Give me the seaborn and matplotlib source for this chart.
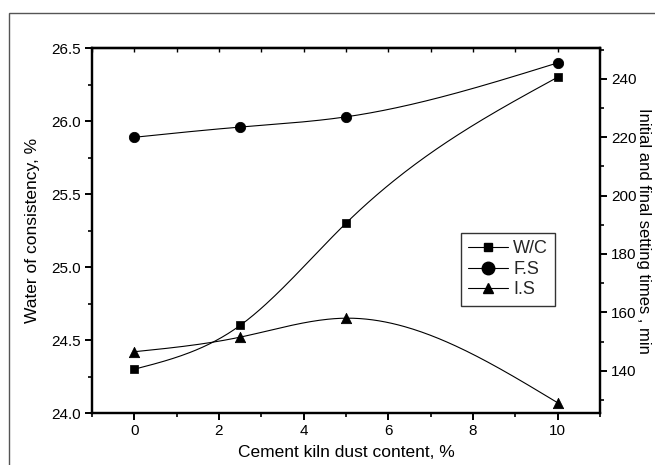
import numpy as np
import matplotlib
matplotlib.use("Agg")
import matplotlib.pyplot as plt
import seaborn as sns
from matplotlib.lines import Line2D
from matplotlib.patches import Rectangle

# CKD content (%) and measured values
ckd = [0, 2.5, 5, 10]
wc = [24.3, 24.6, 25.3, 26.3]          # water of consistency, %
final_set = [220, 223.5, 227, 245.5]   # F.S, min
initial_set = [146.5, 151.5, 158, 129]  # I.S, min


def smooth(x, y, n=200):
    # natural cubic spline through the points, for drawing only
    x = np.asarray(x, float)
    y = np.asarray(y, float)
    h = np.diff(x)
    m = len(x)
    A = np.zeros((m, m))
    b = np.zeros(m)
    A[0, 0] = A[-1, -1] = 1
    for i in range(1, m - 1):
        A[i, i - 1] = h[i - 1]
        A[i, i] = 2 * (h[i - 1] + h[i])
        A[i, i + 1] = h[i]
        b[i] = 6 * ((y[i + 1] - y[i]) / h[i] - (y[i] - y[i - 1]) / h[i - 1])
    M = np.linalg.solve(A, b)
    xs = np.linspace(x[0], x[-1], n)
    idx = np.clip(np.searchsorted(x, xs) - 1, 0, m - 2)
    x0, x1 = x[idx], x[idx + 1]
    hh = x1 - x0
    ys = (M[idx] * (x1 - xs) ** 3 / (6 * hh) + M[idx + 1] * (xs - x0) ** 3 / (6 * hh)
          + (y[idx] / hh - M[idx] * hh / 6) * (x1 - xs)
          + (y[idx + 1] / hh - M[idx + 1] * hh / 6) * (xs - x0))
    return xs, ys


sns.set_theme(style="ticks")
plt.rcParams["font.family"] = ["Liberation Sans", "DejaVu Sans"]

fig = plt.figure(figsize=(6.55, 4.65), dpi=100)
fig.subplots_adjust(left=92 / 655, right=600 / 655, top=1 - 48 / 465, bottom=1 - 413 / 465)
ax = fig.add_subplot(111)
ax2 = ax.twinx()

# frame around the figure (only left and top edges visible)
fig.patches.append(Rectangle((9 / 655, -0.2), 1.2, 0.2 + 1 - 12.7 / 465, transform=fig.transFigure,
                             fill=False, edgecolor="#555555", linewidth=1.0, clip_on=False))

lw = 0.8
xs, ys = smooth(ckd, wc)
sns.lineplot(x=xs, y=ys, ax=ax, color="black", linewidth=lw, sort=False)
sns.scatterplot(x=ckd, y=wc, ax=ax, marker="s", s=40, color="black", edgecolor="black", zorder=5)

xs, ys = smooth(ckd, final_set)
sns.lineplot(x=xs, y=ys, ax=ax2, color="black", linewidth=lw, sort=False)
sns.scatterplot(x=ckd, y=final_set, ax=ax2, marker="o", s=55, color="black", edgecolor="black", zorder=5)

xs, ys = smooth(ckd, initial_set)
sns.lineplot(x=xs, y=ys, ax=ax2, color="black", linewidth=lw, sort=False)
sns.scatterplot(x=ckd, y=initial_set, ax=ax2, marker="^", s=55, color="black", edgecolor="black", zorder=5)

ax.set_xlim(-1, 11)
ax.set_ylim(24.0, 26.5)
ax2.set_ylim(125.5, 250.6)

ax.set_xticks([0, 2, 4, 6, 8, 10])
ax.set_xticks(np.arange(-1, 12, 1), minor=True)
ax.set_yticks([24.0, 24.5, 25.0, 25.5, 26.0, 26.5])
ax.set_yticklabels(["24.0", "24.5", "25.0", "25.5", "26.0", "26.5"])
ax.set_yticks(np.arange(24.0, 26.51, 0.25), minor=True)
ax2.set_yticks([140, 160, 180, 200, 220, 240])
ax2.set_yticks(np.arange(130, 251, 10), minor=True)

for a in (ax, ax2):
    for sp in a.spines.values():
        sp.set_linewidth(1.6)
        sp.set_color("black")
    a.tick_params(which="major", direction="out", length=5, width=1.4, labelsize=11,
                  colors="black", pad=3)
    a.tick_params(which="minor", direction="out", length=3, width=1.2, colors="black")
    a.grid(False)

top = ax.secondary_xaxis("top")
top.set_xticks(np.arange(-1, 12, 1))
top.tick_params(direction="in", length=3, width=1.0, labeltop=False, colors="black")
top.spines["top"].set_linewidth(1.6)

ax.set_xlabel("Cement kiln dust content, %", fontsize=12.5, color="black", labelpad=5)
ax.set_ylabel("Water of consistency, %", fontsize=12.5, color="black")
ax.yaxis.set_label_coords(-0.102, 0.5)
ax2.set_ylabel("Initial and final setting times , min", fontsize=12, color="black",
               rotation=270, va="center")
ax2.yaxis.set_label_coords(1.085, 0.5)

handles = [
    Line2D([], [], color="black", lw=lw, marker="s", markersize=6),
    Line2D([], [], color="black", lw=lw, marker="o", markersize=9),
    Line2D([], [], color="black", lw=lw, marker="^", markersize=7),
]
leg = ax2.legend(handles, ["W/C", "F.S", "I.S"], loc="upper left",
                 bbox_to_anchor=(0.726, 0.493), borderaxespad=0, fancybox=False,
                 frameon=True, edgecolor="black", fontsize=13, handlelength=2.2,
                 handletextpad=0.3, labelspacing=0.2, borderpad=0.4)
leg.get_frame().set_linewidth(1.0)

fig.savefig("out.png", dpi=100)
